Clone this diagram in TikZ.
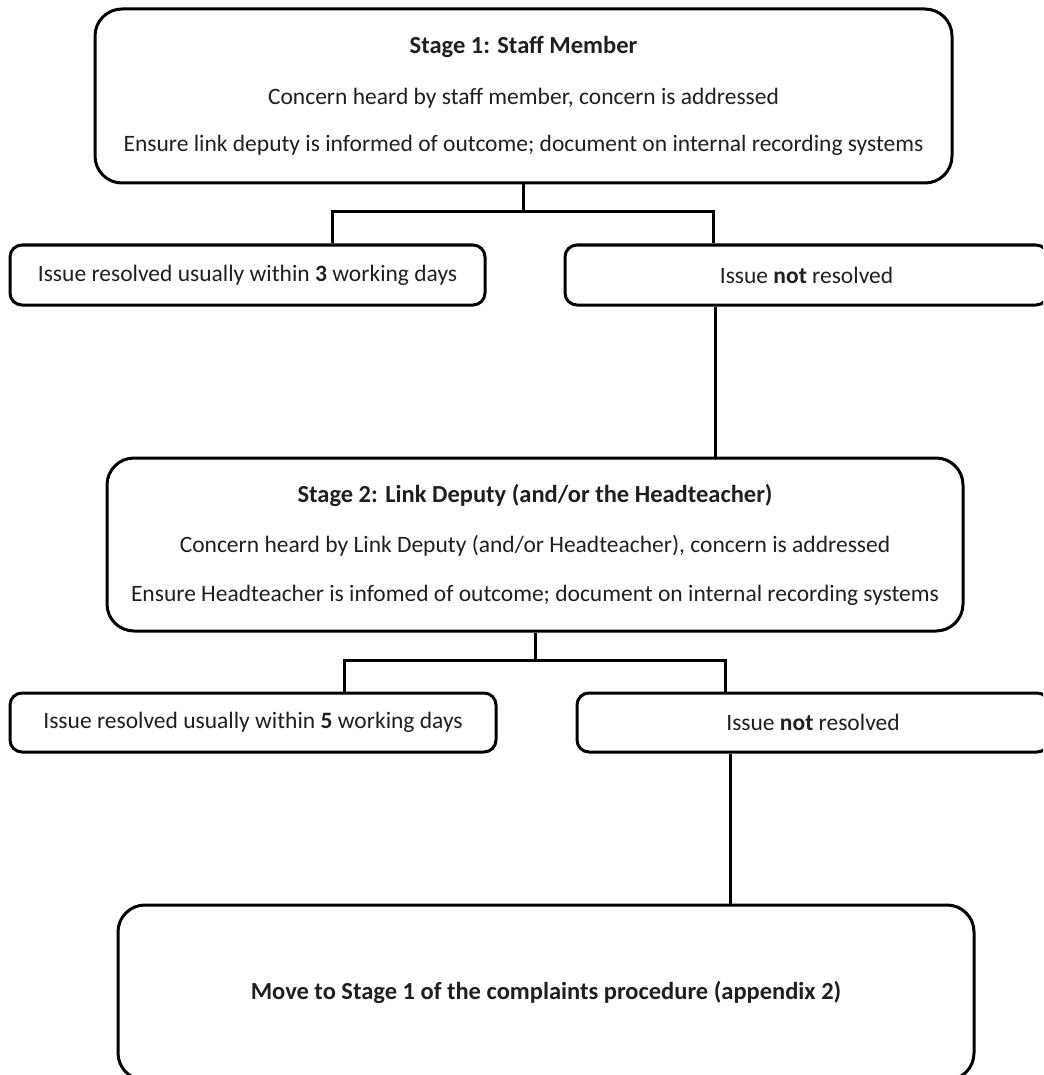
\documentclass[tikz,border=0pt]{standalone}
\usepackage{fontspec}
\setmainfont{Carlito}
\newcommand\ttlfont{\fontsize{24.5pt}{28pt}\selectfont\bfseries}
\begin{document}
\begin{tikzpicture}[x=1pt,y=-1pt,
  every node/.style={font=\fontsize{23.5pt}{28pt}\selectfont, text=black!88},
  bigbox/.style={draw=black, line width=3pt, rounded corners=27pt, align=center, inner sep=0pt},
  smallbox/.style={draw=black, line width=3pt, rounded corners=12pt, align=center, inner sep=0pt, minimum height=60pt},
  conn/.style={draw=black, line width=3pt}]
\useasboundingbox (0,0) rectangle (1043,1075);
\clip (0,0) rectangle (1043,1075);

% Stage 1
\node[bigbox, minimum width=857pt, minimum height=174pt] (b1) at (523.5,96)
  {{\ttlfont Stage 1: Staff Member}\\[23pt]
   Concern heard by staff member, concern is addressed\\[19pt]
   Ensure link deputy is informed of outcome; document on internal recording systems};

\node[smallbox, minimum width=475pt] (b2a) at (247.5,275)
  {Issue resolved usually within \textbf{3} working days};
\node[smallbox, minimum width=483pt] (b2b) at (806.5,275)
  {Issue \textbf{not} resolved};

% Stage 2
\node[bigbox, minimum width=856pt, minimum height=173pt] (b3) at (535,544.5)
  {{\ttlfont Stage 2: Link Deputy (and/or the Headteacher)}\\[22pt]
   Concern heard by Link Deputy (and/or Headteacher), concern is addressed\\[21pt]
   Ensure Headteacher is infomed of outcome; document on internal recording systems};

\node[smallbox, minimum width=486pt, minimum height=59pt] (b4a) at (253,722.5)
  {Issue resolved usually within \textbf{5} working days};
\node[smallbox, minimum width=472pt, minimum height=59pt] (b4b) at (813,722.5)
  {Issue \textbf{not} resolved};

\node[bigbox, minimum width=856pt, minimum height=175pt] (b5) at (546,992.5)
  {\ttlfont Move to Stage 1 of the complaints procedure (appendix 2)};

% connectors stage 1
\coordinate (j1) at (524,212);
\coordinate (j1l) at (332,212);
\coordinate (j1r) at (713,212);
\coordinate (k1) at (715,0);
\draw[conn] (b1.south) -- (b1.south |- j1);
\draw[conn] (b2a.north -| j1l) |- (j1r) -- (b2b.north -| j1r);
\draw[conn] (b2b.south -| k1) -- (b3.north -| k1);

% connectors stage 2
\coordinate (j2) at (536,660);
\coordinate (j2l) at (344,660);
\coordinate (j2r) at (725,660);
\coordinate (k2) at (730,0);
\draw[conn] (b3.south) -- (b3.south |- j2);
\draw[conn] (b4a.north -| j2l) |- (j2r) -- (b4b.north -| j2r);
\draw[conn] (b4b.south -| k2) -- (b5.north -| k2);
\end{tikzpicture}
\end{document}
